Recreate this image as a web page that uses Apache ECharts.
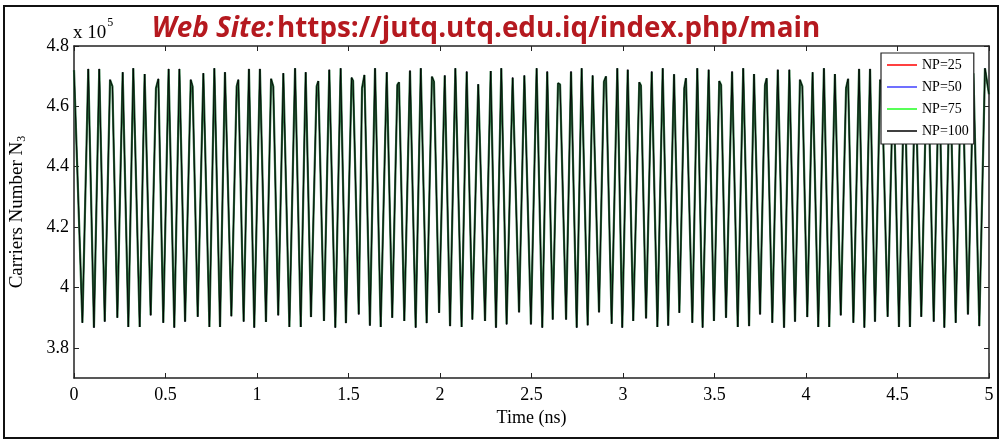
<!DOCTYPE html>
<html>
<head>
<meta charset="utf-8">
<script src="https://cdn.jsdelivr.net/npm/echarts@6/dist/echarts.min.js"></script>
<style>
  html, body { margin: 0; padding: 0; background: #fff; }
  #chart { width: 1001px; height: 441px; }
</style>
</head>
<body>
<div id="chart"></div>
<script>
// time axis (ns) of the sampled turning points
const timeNs = [
  0.000, 0.046, 0.078, 0.109, 0.138, 0.168, 0.197, 0.210, 0.237, 0.266,
  0.297, 0.324, 0.359, 0.386, 0.419, 0.448, 0.461, 0.488, 0.517, 0.548,
  0.576, 0.607, 0.638, 0.648, 0.676, 0.707, 0.740, 0.767, 0.798, 0.825,
  0.860, 0.889, 0.898, 0.927, 0.956, 0.985, 1.016, 1.049, 1.077, 1.089,
  1.116, 1.144, 1.177, 1.208, 1.239, 1.266, 1.295, 1.326, 1.335, 1.366,
  1.395, 1.428, 1.457, 1.486, 1.517, 1.525, 1.556, 1.574, 1.587, 1.617,
  1.645, 1.676, 1.709, 1.739, 1.767, 1.776, 1.805, 1.836, 1.867, 1.895,
  1.927, 1.956, 1.967, 1.995, 2.026, 2.055, 2.084, 2.118, 2.146, 2.177,
  2.209, 2.219, 2.246, 2.277, 2.306, 2.335, 2.364, 2.397, 2.432, 2.461,
  2.497, 2.528, 2.559, 2.586, 2.616, 2.645, 2.656, 2.689, 2.716, 2.747,
  2.774, 2.807, 2.834, 2.869, 2.896, 2.907, 2.938, 2.969, 2.996, 3.026,
  3.056, 3.089, 3.098, 3.126, 3.157, 3.188, 3.217, 3.247, 3.279, 3.308,
  3.335, 3.344, 3.379, 3.406, 3.435, 3.468, 3.497, 3.526, 3.536, 3.563,
  3.596, 3.627, 3.657, 3.689, 3.716, 3.749, 3.776, 3.785, 3.816, 3.846,
  3.880, 3.909, 3.940, 3.967, 3.980, 4.007, 4.036, 4.067, 4.098, 4.127,
  4.158, 4.190, 4.219, 4.230, 4.259, 4.290, 4.319, 4.350, 4.377, 4.405,
  4.415, 4.446, 4.477, 4.508, 4.538, 4.568, 4.597, 4.630, 4.658, 4.668,
  4.698, 4.727, 4.756, 4.787, 4.818, 4.847, 4.857, 4.885, 4.915, 4.947,
  4.978, 5.000
];

// carriers number N3 (x 10^5), all four NP curves overlap
const carriers = [
  4.720, 3.883, 4.724, 3.867, 4.724, 3.887, 4.688, 4.666, 3.900, 4.713,
  3.869, 4.726, 3.869, 4.707, 3.908, 4.660, 4.691, 3.883, 4.724, 3.867,
  4.724, 3.887, 4.688, 4.666, 3.903, 4.710, 3.869, 4.726, 3.869, 4.713,
  3.905, 4.666, 4.688, 3.887, 4.724, 3.867, 4.724, 3.886, 4.691, 4.666,
  3.908, 4.710, 3.869, 4.726, 3.869, 4.713, 3.902, 4.666, 4.684, 3.889,
  4.721, 3.867, 4.726, 3.882, 4.695, 4.685, 3.911, 4.660, 4.704, 3.874,
  4.726, 3.869, 4.713, 3.900, 4.671, 4.680, 3.889, 4.718, 3.867, 4.726,
  3.882, 4.698, 4.682, 3.916, 4.702, 3.872, 4.726, 3.869, 4.715, 3.894,
  4.673, 4.676, 3.889, 4.717, 3.867, 4.726, 3.878, 4.695, 3.918, 4.702,
  3.878, 4.726, 3.867, 4.715, 3.894, 4.677, 4.673, 3.894, 4.715, 3.867,
  4.726, 3.875, 4.702, 3.918, 4.682, 4.699, 3.880, 4.726, 3.867, 4.721,
  3.889, 4.680, 4.669, 3.898, 4.715, 3.869, 4.726, 3.874, 4.706, 3.916,
  4.660, 4.693, 3.883, 4.726, 3.867, 4.721, 3.889, 4.684, 4.671, 3.900,
  4.715, 3.869, 4.726, 3.872, 4.707, 3.911, 4.671, 4.693, 3.883, 4.721,
  3.867, 4.721, 3.887, 4.688, 4.666, 3.902, 4.713, 3.869, 4.726, 3.869,
  4.707, 3.908, 4.660, 4.691, 3.883, 4.724, 3.867, 4.724, 3.887, 4.688,
  4.666, 3.903, 4.710, 3.869, 4.726, 3.869, 4.713, 3.903, 4.666, 4.688,
  3.887, 4.724, 3.867, 4.724, 3.883, 4.691, 4.666, 3.911, 4.710, 3.872,
  4.726, 4.640
];

const names = ['NP=25', 'NP=50', 'NP=75', 'NP=100'];
const colors = ['#ff0000', '#4040ff', '#20ff20', '#000000'];
const yTicks = [3.8, 4.0, 4.2, 4.4, 4.6, 4.8];

const serif = 'Liberation Serif';
const pts = timeNs.map((t, i) => [t, carriers[i]]);

const chart = echarts.init(document.getElementById('chart'));

const lineStyles = [
  { color: colors[0], width: 1 },
  { color: colors[1], width: 1 },
  { color: '#2e7342', width: 2.2 },
  { color: '#000000', width: 1, opacity: 0.9 }
];

const axisBase = {
  type: 'value',
  axisLine: { show: true, onZero: false, lineStyle: { color: '#222', width: 1.5 } },
  axisTick: { show: true, inside: true, length: 5, lineStyle: { color: '#222', width: 1 } },
  splitLine: { show: false }
};

const option = {
  animation: false,
  backgroundColor: '#fff',
  grid: { left: 74, right: 12, top: 46, bottom: 63, outerBoundsMode: 'none', containLabel: false },
  legend: {
    z: 20,
    orient: 'vertical',
    left: 881,
    top: 53,
    padding: [5, 5, 6, 6],
    itemWidth: 30,
    itemHeight: 1.5,
    itemGap: 8,
    backgroundColor: '#fff',
    borderColor: '#222',
    borderWidth: 1.2,
    borderRadius: 0,
    textStyle: { fontFamily: serif, fontSize: 14, color: '#000', lineHeight: 14 },
    data: names.map((n, i) => ({
      name: n,
      icon: 'rect',
      itemStyle: { color: colors[i], borderWidth: 0 }
    }))
  },
  xAxis: [
    Object.assign({}, axisBase, {
      min: 0, max: 5, interval: 0.5,
      position: 'bottom',
      name: 'Time (ns)',
      nameLocation: 'middle',
      nameGap: 30,
      nameTextStyle: { fontFamily: serif, fontSize: 18, color: '#000' },
      axisLabel: { fontFamily: serif, fontSize: 18, color: '#000', margin: 8 }
    }),
    Object.assign({}, axisBase, {
      min: 0, max: 5, interval: 0.5,
      position: 'top',
      axisLabel: { show: false }
    })
  ],
  yAxis: [
    Object.assign({}, axisBase, {
      min: 3.7, max: 4.8,
      position: 'left',
      name: '{a|Carriers Number N}{s|3}',
      nameLocation: 'middle',
      nameGap: 46,
      nameTextStyle: {
        rich: {
          a: { fontFamily: serif, fontSize: 19, color: '#000', lineHeight: 22 },
          s: { fontFamily: serif, fontSize: 12, color: '#000', lineHeight: 10, verticalAlign: 'bottom' }
        }
      },
      axisTick: { show: true, inside: true, length: 5, customValues: yTicks, lineStyle: { color: '#222', width: 1 } },
      axisLabel: { fontFamily: serif, fontSize: 18, color: '#000', margin: 5, customValues: yTicks,
        formatter: v => (Math.round(v * 10) / 10).toString() }
    }),
    Object.assign({}, axisBase, {
      min: 3.7, max: 4.8,
      position: 'right',
      axisTick: { show: true, inside: true, length: 5, customValues: yTicks, lineStyle: { color: '#222', width: 1 } },
      axisLabel: { show: false }
    })
  ],
  graphic: [
    {
      type: 'rect',
      shape: { x: 4, y: 6, width: 994, height: 432 },
      style: { fill: 'none', stroke: '#111', lineWidth: 2 },
      silent: true
    },
    {
      type: 'text',
      x: 486, y: 29,
      style: {
        text: '{i|Web Site:} {b|https://jutq.utq.edu.iq/index.php/main}',
        align: 'center',
        verticalAlign: 'middle',
        rich: {
          i: { fontFamily: 'Open Sans', fontSize: 27.8, fontWeight: 'bold', fontStyle: 'italic', fill: '#b5191f' },
          b: { fontFamily: 'Open Sans', fontSize: 27.8, fontWeight: 'bold', fill: '#b5191f' }
        }
      },
      silent: true
    },
    {
      type: 'text',
      x: 73, y: 43,
      style: {
        text: '{a|x 10}{p|5}',
        align: 'left',
        verticalAlign: 'bottom',
        rich: {
          a: { fontFamily: serif, fontSize: 19, fill: '#000', lineHeight: 22, verticalAlign: 'bottom' },
          p: { fontFamily: serif, fontSize: 12, fill: '#000', lineHeight: 26, verticalAlign: 'top', padding: [0, 0, 0, 1] }
        }
      },
      silent: true
    }
  ],
  series: names.map((n, i) => ({
    name: n,
    type: 'line',
    xAxisIndex: 0,
    yAxisIndex: 0,
    data: pts,
    symbol: 'none',
    smooth: false,
    color: colors[i],
    lineStyle: lineStyles[i]
  }))
};

chart.setOption(option);
window.addEventListener('resize', () => chart.resize());
</script>
</body>
</html>
